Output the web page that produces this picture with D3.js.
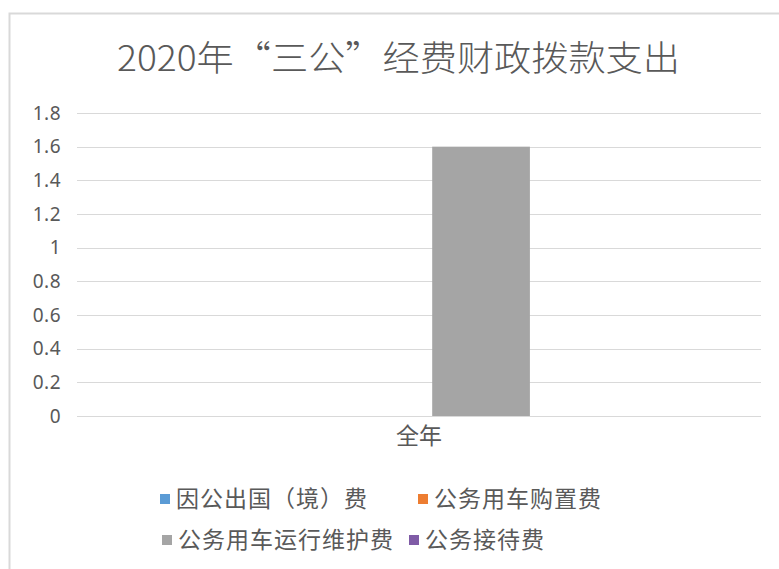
<!DOCTYPE html>
<html>
<head>
  <meta charset="utf-8">
  <title>2020年“三公”经费财政拨款支出</title>
  <script src="https://d3js.org/d3.v7.min.js"></script>
  <style>
    body { margin: 0; background: #fff; }
    text { font-family: "Noto Sans CJK SC", "Noto Sans", sans-serif; }
  </style>
</head>
<body>
<script>
  // data
  var categories = ["全年"];
  var seriesNames = ["因公出国（境）费", "公务用车购置费", "公务用车运行维护费", "公务接待费"];
  var seriesColors = ["#5b9bd5", "#ed7d31", "#a5a5a5", "#7f5ba6"];
  var seriesValues = [[0], [0], [1.6], [0]];
  var yTicks = [0, 0.2, 0.4, 0.6, 0.8, 1, 1.2, 1.4, 1.6, 1.8];

  var width = 779, height = 569;
  var plot = { left: 77, right: 761, top: 113, bottom: 416 };

  var svg = d3.select("body").append("svg")
      .attr("width", width)
      .attr("height", height);

  // chart frame (only top and left edges show in the picture)
  svg.append("rect")
      .attr("x", 9.5).attr("y", 13.5)
      .attr("width", 790).attr("height", 600)
      .style("fill", "#fff")
      .style("stroke", "#d9d9d9")
      .style("stroke-width", 2);

  svg.append("text")
      .attr("x", 117).attr("y", 71)
      .attr("textLength", 563)
      .attr("lengthAdjust", "spacingAndGlyphs")
      .style("font-size", "35px")
      .style("font-weight", 300)
      .style("fill", "#595959")
      .text("2020年“三公”经费财政拨款支出");

  var yScale = d3.scaleLinear()
      .domain([0, 1.8])
      .range([plot.bottom, plot.top]);

  // excel style clustered bars: gap width 219%, overlap -27%
  var xScale = d3.scaleBand()
      .domain(categories)
      .range([plot.left, plot.right])
      .paddingInner(0)
      .paddingOuter((7 / 4.81 - 1) / 2);

  var xSeries = d3.scaleBand()
      .domain(seriesNames)
      .range([0, xScale.bandwidth()])
      .paddingInner(0.27 / 1.27)
      .paddingOuter(0);

  // gridlines
  svg.append("g").selectAll("line")
      .data(yTicks)
      .enter().append("line")
      .attr("x1", plot.left).attr("x2", plot.right)
      .attr("y1", function(d){ return Math.round(yScale(d)) + 0.5; })
      .attr("y2", function(d){ return Math.round(yScale(d)) + 0.5; })
      .style("stroke", "#d9d9d9")
      .style("stroke-width", 1.2);

  // y labels
  var yAxis = d3.axisLeft(yScale)
      .tickValues(yTicks)
      .tickSize(0)
      .tickPadding(0)
      .tickFormat(function(d){ return String(d); });

  var yG = svg.append("g")
      .attr("transform", "translate(61,0)")
      .call(yAxis);
  yG.select(".domain").remove();
  yG.selectAll("text")
      .style("font-family", "\"Noto Sans\", sans-serif")
      .style("font-size", "19px")
      .style("letter-spacing", "0.5px")
      .style("fill", "#595959");

  // bars
  var groups = svg.append("g").selectAll("g")
      .data(seriesNames)
      .enter().append("g");

  groups.selectAll("rect")
      .data(function(s, i){
        return categories.map(function(c, j){ return { cat: c, name: s, value: seriesValues[i][j], color: seriesColors[i] }; });
      })
      .enter().append("rect")
      .attr("x", function(d){ return xScale(d.cat) + xSeries(d.name); })
      .attr("width", xSeries.bandwidth())
      .attr("y", function(d){ return yScale(d.value); })
      .attr("height", function(d){ return yScale(0) - yScale(d.value); })
      .style("fill", function(d){ return d.color; });

  // x labels
  var xAxis = d3.axisBottom(xScale).tickSize(0).tickPadding(0);
  var xG = svg.append("g")
      .attr("transform", "translate(0,428)")
      .call(xAxis);
  xG.select(".domain").remove();
  xG.selectAll("text")
      .style("font-family", "\"Noto Sans CJK SC\", sans-serif")
      .style("font-size", "23px")
      .style("fill", "#595959");

  // legend, two rows
  var legendPos = [[160, 499], [418, 499], [162, 540], [409, 540]];
  var legend = svg.append("g").selectAll("g")
      .data(seriesNames)
      .enter().append("g")
      .attr("transform", function(d, i){ return "translate(" + legendPos[i][0] + "," + legendPos[i][1] + ")"; });

  legend.append("rect")
      .attr("x", 0).attr("y", -5)
      .attr("width", 10).attr("height", 10)
      .style("fill", function(d, i){ return seriesColors[i]; });

  legend.append("text")
      .attr("x", 16).attr("y", 0)
      .attr("dy", "0.36em")
      .style("font-size", "23px")
      .style("letter-spacing", "1px")
      .style("fill", "#595959")
      .text(function(d){ return d; });
</script>
</body>
</html>
